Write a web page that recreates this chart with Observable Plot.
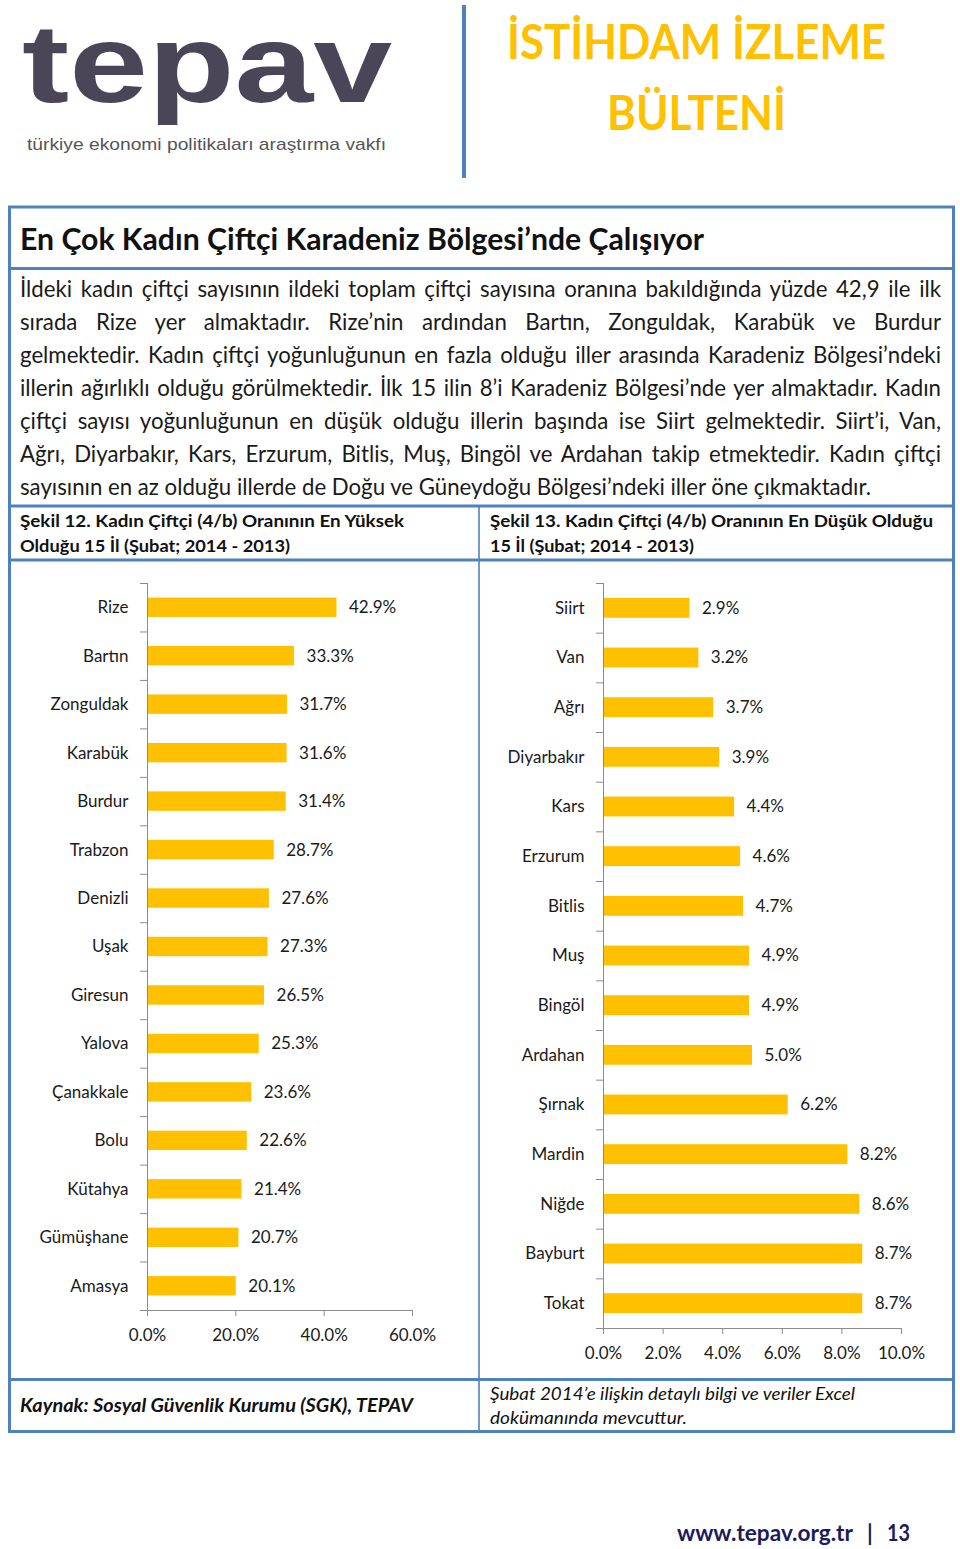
<!DOCTYPE html>
<html>
<head>
<meta charset="utf-8">
<script src="https://cdn.jsdelivr.net/npm/d3@7"></script>
<script src="https://cdn.jsdelivr.net/npm/@observablehq/plot@0.6"></script>
<style>
  body { margin: 0; background: #fff; }
  #page { position: relative; width: 960px; height: 1549px; overflow: hidden; background: #fff; font-family: Lato, sans-serif; }
  #bg { position: absolute; left: 0; top: 0; }
  .chart { position: absolute; }
</style>
</head>
<body>
<div id="page">
  <svg id="bg" width="960" height="1549"></svg>
  <div id="leftChart" class="chart" style="left:11px;top:562px;"></div>
  <div id="rightChart" class="chart" style="left:481px;top:562px;"></div>
</div>
<script>
// ---------- data ----------
const leftNames = ["Rize","Bartın","Zonguldak","Karabük","Burdur","Trabzon","Denizli","Uşak","Giresun","Yalova","Çanakkale","Bolu","Kütahya","Gümüşhane","Amasya"];
const leftValues = [42.9,33.3,31.7,31.6,31.4,28.7,27.6,27.3,26.5,25.3,23.6,22.6,21.4,20.7,20.1];
const rightNames = ["Siirt","Van","Ağrı","Diyarbakır","Kars","Erzurum","Bitlis","Muş","Bingöl","Ardahan","Şırnak","Mardin","Niğde","Bayburt","Tokat"];
const rightValues = [2.9,3.2,3.7,3.9,4.4,4.6,4.7,4.9,4.9,5.0,6.2,8.2,8.6,8.7,8.7];
const leftTicks = [0,20,40,60];
const rightTicks = [0,2,4,6,8,10];

const headerTitle = ["İSTİHDAM İZLEME","BÜLTENİ"];
const pageTitle = "En Çok Kadın Çiftçi Karadeniz Bölgesi’nde Çalışıyor";
const paragraph = [
  "İldeki kadın çiftçi sayısının ildeki toplam çiftçi sayısına oranına bakıldığında yüzde 42,9 ile ilk",
  "sırada Rize yer almaktadır. Rize’nin ardından Bartın, Zonguldak, Karabük ve Burdur",
  "gelmektedir. Kadın çiftçi yoğunluğunun en fazla olduğu iller arasında Karadeniz Bölgesi’ndeki",
  "illerin ağırlıklı olduğu görülmektedir. İlk 15 ilin 8’i Karadeniz Bölgesi’nde yer almaktadır. Kadın",
  "çiftçi sayısı yoğunluğunun en düşük olduğu illerin başında ise Siirt gelmektedir. Siirt’i, Van,",
  "Ağrı, Diyarbakır, Kars, Erzurum, Bitlis, Muş, Bingöl ve Ardahan takip etmektedir. Kadın çiftçi",
  "sayısının en az olduğu illerde de Doğu ve Güneydoğu Bölgesi’ndeki iller öne çıkmaktadır."
];
const captionLeft = ["Şekil 12. Kadın Çiftçi (4/b) Oranının En Yüksek","Olduğu 15 İl (Şubat; 2014 - 2013)"];
const captionRight = ["Şekil 13. Kadın Çiftçi (4/b) Oranının En Düşük Olduğu","15 İl (Şubat; 2014 - 2013)"];
const sourceText = "Kaynak: Sosyal Güvenlik Kurumu (SGK), TEPAV";
const noteText = ["Şubat 2014’e ilişkin detaylı bilgi ve veriler Excel","dokümanında mevcuttur."];

// ---------- page frame and texts ----------
const BLUE = "#4f81bd";
const bg = d3.select("#bg");

function txt(s, x, y, o) {
  const t = bg.append("text").attr("x", x).attr("y", y).text(s)
    .attr("font-family", o.family || "Lato, sans-serif")
    .attr("font-size", o.size)
    .attr("font-weight", o.weight || "normal")
    .attr("font-style", o.style || "normal")
    .attr("fill", o.fill || "#111");
  if (o.len) t.attr("textLength", o.len).attr("lengthAdjust", "spacingAndGlyphs");
  return t;
}

// logo
txt("tepav", 22, 102, {family: "'Liberation Sans', Arial, sans-serif", size: 112, weight: "bold", fill: "#4a4658", len: 370});
txt("türkiye ekonomi politikaları araştırma vakfı", 27, 150, {family: "'Liberation Sans', Arial, sans-serif", size: 17, fill: "#555", len: 359});
// header divider
bg.append("line").attr("x1", 464).attr("x2", 464).attr("y1", 5).attr("y2", 178).attr("stroke", BLUE).attr("stroke-width", 4);
// header title
txt(headerTitle[0], 507, 59, {size: 47, weight: "bold", fill: "#ffc000", len: 379});
txt(headerTitle[1], 607, 130, {size: 47, weight: "bold", fill: "#ffc000", len: 179});

// box
bg.append("rect").attr("x", 9.5).attr("y", 207).attr("width", 944).attr("height", 1224.5)
  .attr("fill", "none").attr("stroke", BLUE).attr("stroke-width", 3);
[268.5, 506, 560, 1379.5].forEach(y => bg.append("line").attr("x1", 9.5).attr("x2", 953.5).attr("y1", y).attr("y2", y).attr("stroke", BLUE).attr("stroke-width", 3));
bg.append("line").attr("x1", 479).attr("x2", 479).attr("y1", 506).attr("y2", 1431).attr("stroke", BLUE).attr("stroke-width", 1.6);

// title
txt(pageTitle, 20, 250, {size: 30, weight: "bold", fill: "#111", len: 684});

// paragraph (justified)
(function () {
  let size = 21;
  const probe = txt(paragraph[6], 20, 495, {size, fill: "#1a1a1a"});
  const w7 = probe.node().getComputedTextLength();
  size = size * 851 / w7;
  probe.attr("font-size", size);
  paragraph.slice(0, 6).forEach((line, i) => {
    const t = txt(line, 20, 297 + 33 * i, {size, fill: "#1a1a1a"});
    const w = t.node().getComputedTextLength();
    const spaces = (line.match(/ /g) || []).length;
    t.attr("word-spacing", ((921 - w) / spaces).toFixed(3));
  });
})();

// captions
txt(captionLeft[0], 20, 527, {size: 17.5, weight: "bold", fill: "#111", len: 384});
txt(captionLeft[1], 20, 552, {size: 17.5, weight: "bold", fill: "#111", len: 270});
txt(captionRight[0], 490, 527, {size: 17.5, weight: "bold", fill: "#111", len: 443});
txt(captionRight[1], 490, 552, {size: 17.5, weight: "bold", fill: "#111", len: 204});

// footer of box
txt(sourceText, 20, 1412, {size: 18, weight: "bold", style: "italic", fill: "#111", len: 393});
txt(noteText[0], 490, 1400, {size: 18, style: "italic", fill: "#111", len: 365});
txt(noteText[1], 490, 1424, {size: 18, style: "italic", fill: "#111", len: 197});

// page footer
txt("www.tepav.org.tr", 677, 1541, {size: 22, weight: "bold", fill: "#1b1b5e", len: 176});
txt("|", 867, 1541, {size: 22, weight: "bold", fill: "#1b1b5e"});
txt("13", 887, 1541, {size: 22, weight: "bold", fill: "#1b1b5e", len: 23});

// ---------- charts ----------
const GRAY = "#8c8c8c";
function barChart({names, values, ticks, width, height, mt, mr, mb, ml}) {
  const data = names.map((name, i) => ({name, value: values[i]}));
  const n = names.length;
  const step = (height - mt - mb) / n;
  const fmt = d => d.toFixed(1) + "%";
  const xmax = ticks[ticks.length - 1];
  return Plot.plot({
    width, height,
    marginTop: mt, marginRight: mr, marginBottom: mb, marginLeft: ml,
    style: {fontFamily: "Lato, sans-serif", fontSize: "17px", color: "#1a1a1a", background: "transparent", overflow: "visible"},
    x: {domain: [0, xmax], label: null},
    y: {domain: names, paddingInner: 0.6, paddingOuter: 0.3, round: false, label: null},
    marks: [
      Plot.barX(data, {x: "value", y: "name", fill: "#ffc000"}),
      Plot.ruleX([0], {stroke: GRAY, strokeWidth: 1}),
      Plot.ruleY(names, {y: d => d, x1: 0, x2: 0, insetLeft: -7, dy: -step / 2, stroke: GRAY, strokeWidth: 1}),
      Plot.ruleY([names[n - 1]], {y: d => d, x1: 0, x2: xmax, insetLeft: -7, dy: step / 2, stroke: GRAY, strokeWidth: 1}),
      Plot.axisX({ticks, tickFormat: fmt, tickSize: 6, tickPadding: 12, stroke: GRAY, fill: "#1a1a1a", label: null}),
      Plot.axisY({tickSize: 0, tickPadding: 19, fill: "#1a1a1a", label: null}),
      Plot.text(data, {x: "value", y: "name", text: d => fmt(d.value), textAnchor: "start", dx: 12, fill: "#1a1a1a"})
    ]
  });
}

document.getElementById("leftChart").append(barChart({
  names: leftNames, values: leftValues, ticks: leftTicks,
  width: 466, height: 814, mt: 21, mr: 65, mb: 66, ml: 136
}));
document.getElementById("rightChart").append(barChart({
  names: rightNames, values: rightValues, ticks: rightTicks,
  width: 470, height: 814, mt: 21, mr: 50, mb: 48, ml: 122
}));
</script>
</body>
</html>
